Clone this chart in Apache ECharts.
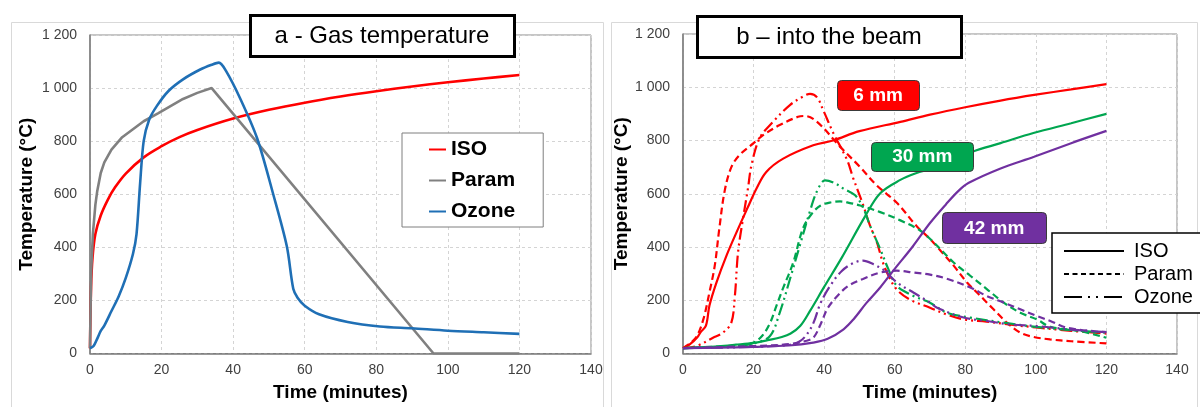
<!DOCTYPE html>
<html><head><meta charset="utf-8">
<script src="https://cdn.jsdelivr.net/npm/echarts@6/dist/echarts.min.js"></script>
<style>html,body{margin:0;padding:0;background:#fff}#c{width:1200px;height:407px}</style>
</head><body><div id="c"></div>
<script>
const FONT = "'Liberation Sans', Arial, sans-serif";

// ---------- panel a : gas temperature [time (min), temperature (°C)] ----------
const gasIso = [[0,20],[0.3,250],[0.7,360],[1.5,450],[3,520],[5,580],[7,626],[10,678],[15,739],[20,781],[25,815],[30,842],[40,885],[50,918],[60,945],[70,968],[80,988],[90,1006],[100,1022],[110,1036],[120,1049]];
const gasParam = [[0,20],[0.3,300],[0.8,450],[1.5,560],[2,610],[3,680],[4,720],[6,768],[9,815],[12,845],[15,875],[19,905],[26,959],[30,982],[34,1000],[96,0],[120,0]];
const gasOzone = [[0,20],[1,28],[2,55],[3,85],[4,105],[6,160],[8,215],[10,285],[12,375],[13,450],[14,640],[15,800],[16.5,880],[18.7,933],[22,990],[26,1033],[30.8,1070],[34,1088],[36,1096],[38,1065],[42,960],[46.7,811],[51.2,600],[55,404],[56.8,244],[58,210],[60,180],[64,148],[72,119],[81,102],[90,95],[100,86],[110,80],[120,74]];

// ---------- panel b : steel temperature into the beam ----------
const iso6 = [[0,20],[2,35],[4,60],[5,80],[6.5,105],[7.5,180],[9.5,267],[12.3,367],[15.6,468],[18.4,550],[20.8,619],[23.6,682],[28.4,732],[36.9,782],[42.5,800],[50,835],[61.6,870],[70,897],[80,925],[90,950],[100,972],[110,992],[120,1012]];
const param6 = [[0,20],[2,38],[3.9,64],[5.8,130],[7.5,230],[9,330],[10.3,470],[11.8,610],[13.7,700],[16,745],[20,790],[22.7,820],[27.4,858],[32.6,889],[34.5,892],[38,870],[44.5,777],[50.2,700],[55,630],[60.6,566],[66.3,477],[70,430],[73,386],[76.7,330],[80.5,267],[84.3,216],[88,166],[91.8,116],[95.6,78],[99.4,62],[104,53],[110,46],[120,38]];
const ozone6 = [[0,20],[3.8,28],[8.5,59],[11.3,78],[13.7,116],[14.7,216],[15.6,380],[17,506],[18.4,619],[19.4,707],[21.7,808],[25.5,870],[30.3,933],[34,965],[36,975],[38,962],[39.7,915],[42.6,828],[46.5,727],[48.2,660],[51,560],[53,480],[54.9,420],[56.4,352],[57.8,304],[60.6,240],[64.4,202],[70,172],[75,145],[80,127],[86,120],[93,108],[100,98],[110,85],[120,75]];

const iso30 = [[0,20],[10,27],[15,33],[20,40],[24,50],[28,62],[30.5,75],[33.2,103],[36,160],[40,250],[45,360],[51.6,515],[55.9,602],[61.6,652],[66,677],[71,697],[82,758],[90,790],[99.3,828],[110,865],[120,900]];
const param30 = [[0,20],[10,26],[15,30],[19,35],[22,60],[24.5,110],[26.5,180],[28.5,250],[31.2,340],[34,470],[36.5,525],[39,556],[42,568],[44.5,571],[47,566],[50.2,556],[55.9,531],[61.6,500],[67.2,462],[71,418],[76.7,342],[81.4,292],[86.1,242],[90.9,191],[95.6,153],[100.3,128],[104.1,100],[112.6,84],[120,59]];
const ozone30 = [[0,20],[15,28],[20,38],[24.6,65],[27.4,153],[30.3,279],[33.1,405],[35.9,531],[38,610],[40.3,650],[43,640],[45.5,619],[48.8,594],[51.2,543],[53,480],[55.9,392],[58.2,317],[60.6,254],[65.3,216],[70,191],[74.8,153],[81.4,135],[90.9,116],[100,100],[110,88],[120,78]];

const iso42 = [[0,20],[10,22],[20,25],[30,30],[36.9,41],[41,55],[45.5,91],[48.3,128],[52,190],[56,250],[60,318],[65,400],[70,490],[74.5,560],[78,610],[81,641],[90,695],[99.5,739],[110,790],[120,836]];
const param42 = [[0,20],[20,28],[30,35],[35,48],[37,60],[39,110],[41,170],[44,220],[47,255],[51,280],[55.9,304],[60.6,311],[65.3,304],[70,296],[75,280],[81.4,248],[86.1,216],[90.9,191],[95.6,166],[100.3,141],[104.1,122],[109,96],[120,80]];
const ozone42 = [[0,20],[20,25],[30,32],[33,45],[35,70],[37,116],[39,190],[42,260],[45,310],[48,338],[51,349],[54,335],[57,312],[60.6,267],[65.3,229],[70,191],[72,172],[79.5,135],[86.1,122],[92.8,109],[100.3,103],[110,90],[120,80]];

// labels
const gasNames = ['ISO','Param','Ozone'];
const styleNames = ['ISO ','Param ','Ozone '];
const thicknessLabels = ['6 mm','30 mm','42 mm'];
const labelAnchors = [[55.3,971],[67.8,741],[88.2,474]];

const RED = '#ff0000', GRAY = '#808080', BLUE = '#1f6fb5', GREEN = '#00a650', PURPLE = '#7030a0';
const DASH = [7,4];
const DASHDOT = [12,4,2,4,2,4];

const fmt = v => String(v).replace(/\B(?=(\d{3})+(?!\d))/g, ' ');

function mkX(gi, gap){
  return {gridIndex: gi, type:'value', min:0, max:140, interval:20,
    name:'Time (minutes)', nameLocation:'middle', nameGap:gap,
    nameTextStyle:{fontFamily:FONT, fontSize:19, fontWeight:'bold', color:'#000'},
    axisLine:{show:true, onZero:false, lineStyle:{color:'#7a7a7a', width:1.5}},
    axisTick:{show:false},
    axisLabel:{fontFamily:FONT, fontSize:14, color:'#404040', margin:10},
    splitLine:{show:true, lineStyle:{color:'#d4d4d4', type:[3,3]}}};
}
function mkY(gi, gap){
  return {gridIndex: gi, type:'value', min:0, max:1200, interval:200,
    name:'Temperature (°C)', nameLocation:'middle', nameGap:gap, nameRotate:90,
    nameTextStyle:{fontFamily:FONT, fontSize:19, fontWeight:'bold', color:'#000'},
    axisLine:{show:true, lineStyle:{color:'#7a7a7a', width:1.5}},
    axisTick:{show:false},
    axisLabel:{fontFamily:FONT, fontSize:14, color:'#404040', margin:13, formatter: fmt},
    splitLine:{show:true, lineStyle:{color:'#d4d4d4', type:[3,3]}}};
}
function ln(name, data, gi, color, width, type, smooth){
  return {name, type:'line', xAxisIndex:gi, yAxisIndex:gi, data, symbol:'none', showSymbol:false,
    smooth: smooth, animation:false,
    lineStyle:{color, width, type}, itemStyle:{color}, emphasis:{disabled:true}};
}

const chart = echarts.init(document.getElementById('c'), null, {renderer:'canvas'});
chart.setOption({
  animation:false,
  backgroundColor:'#fff',
  grid:[
    {left:90, top:35, width:501, height:324, show:true, borderColor:'#8c8c8c', borderWidth:1, backgroundColor:'transparent'},
    {left:683, top:34, width:494, height:320, show:true, borderColor:'#8c8c8c', borderWidth:1, backgroundColor:'transparent'}
  ],
  xAxis:[mkX(0,29.5), mkX(1,29.5)],
  yAxis:[mkY(0,54), mkY(1,51.5)],
  legend:[
    {data:gasNames, orient:'vertical', left:402, top:133, padding:[6,28,5,26], itemGap:10,
     itemWidth:17, itemHeight:10, selectedMode:false, backgroundColor:'#fff',
     borderColor:'#7f7f7f', borderWidth:1, itemStyle:{opacity:0},
     textStyle:{fontFamily:FONT, fontSize:21, fontWeight:'bold', color:'#000'}},
    {data:styleNames, orient:'vertical', left:1052, top:233, padding:[8,10,6,11], itemGap:3,
     itemWidth:60, itemHeight:10, selectedMode:false, backgroundColor:'#fff',
     borderColor:'#000', borderWidth:1.5, itemStyle:{opacity:0},
     textStyle:{fontFamily:FONT, fontSize:20, color:'#000', padding:[0,0,0,5]}}
  ],
  series:[
    ln('ISO', gasIso, 0, RED, 2.6, 'solid', 0.35),
    ln('Param', gasParam, 0, GRAY, 2.6, 'solid', false),
    ln('Ozone', gasOzone, 0, BLUE, 2.6, 'solid', 0.3),
    ln('ISO 6 mm', iso6, 1, RED, 2.2, 'solid', 0.35),
    ln('Param 6 mm', param6, 1, RED, 2.2, DASH, 0.35),
    ln('Ozone 6 mm', ozone6, 1, RED, 2.2, DASHDOT, 0.35),
    ln('ISO 30 mm', iso30, 1, GREEN, 2.2, 'solid', 0.35),
    ln('Param 30 mm', param30, 1, GREEN, 2.2, DASH, 0.35),
    ln('Ozone 30 mm', ozone30, 1, GREEN, 2.2, DASHDOT, 0.35),
    ln('ISO 42 mm', iso42, 1, PURPLE, 2.2, 'solid', 0.35),
    ln('Param 42 mm', param42, 1, PURPLE, 2.2, DASH, 0.35),
    ln('Ozone 42 mm', ozone42, 1, PURPLE, 2.2, DASHDOT, 0.35),
    ln(styleNames[0], [], 1, '#000', 2, 'solid', false),
    ln(styleNames[1], [], 1, '#000', 2, [5,3.5], false),
    ln(styleNames[2], [], 1, '#000', 2, [18,6,2,6,2,6], false)
  ]
});

const boxFill = [RED, GREEN, PURPLE];
const boxSize = [[82,30],[102,29],[104,31]];
const graphics = [
  {type:'rect', silent:true, z:-10, shape:{x:11.5, y:22.5, width:592, height:400}, style:{fill:'none', stroke:'#d9d9d9', lineWidth:1}},
  {type:'rect', silent:true, z:-10, shape:{x:611.5, y:22.5, width:586, height:400}, style:{fill:'none', stroke:'#d9d9d9', lineWidth:1}},
  {type:'rect', z:100, shape:{x:250.5, y:15.5, width:264, height:41}, style:{fill:'#fff', stroke:'#000', lineWidth:3}},
  {type:'text', z:101, style:{text:'a - Gas temperature', x:382, y:36.5, align:'center', verticalAlign:'middle', fontFamily:FONT, fontSize:24, fill:'#000'}},
  {type:'rect', z:100, shape:{x:697.5, y:16.5, width:264, height:41}, style:{fill:'#fff', stroke:'#000', lineWidth:3}},
  {type:'text', z:101, style:{text:'b – into the beam', x:829, y:37.5, align:'center', verticalAlign:'middle', fontFamily:FONT, fontSize:24, fill:'#000'}}
];
thicknessLabels.forEach((t, i) => {
  const p = chart.convertToPixel({xAxisIndex:1, yAxisIndex:1}, labelAnchors[i]);
  const w = boxSize[i][0], h = boxSize[i][1];
  graphics.push({type:'rect', z:100, shape:{x:Math.round(p[0]-w/2)+0.5, y:Math.round(p[1]-h/2)+0.5, width:w, height:h, r:4},
    style:{fill:boxFill[i], stroke:'#3a3a3a', lineWidth:1}});
  graphics.push({type:'text', z:101, style:{text:t, x:p[0], y:p[1]+1, align:'center', verticalAlign:'middle', fontFamily:FONT, fontSize:19, fontWeight:'bold', fill:'#fff'}});
});
chart.setOption({graphic:graphics});
</script></body></html>
